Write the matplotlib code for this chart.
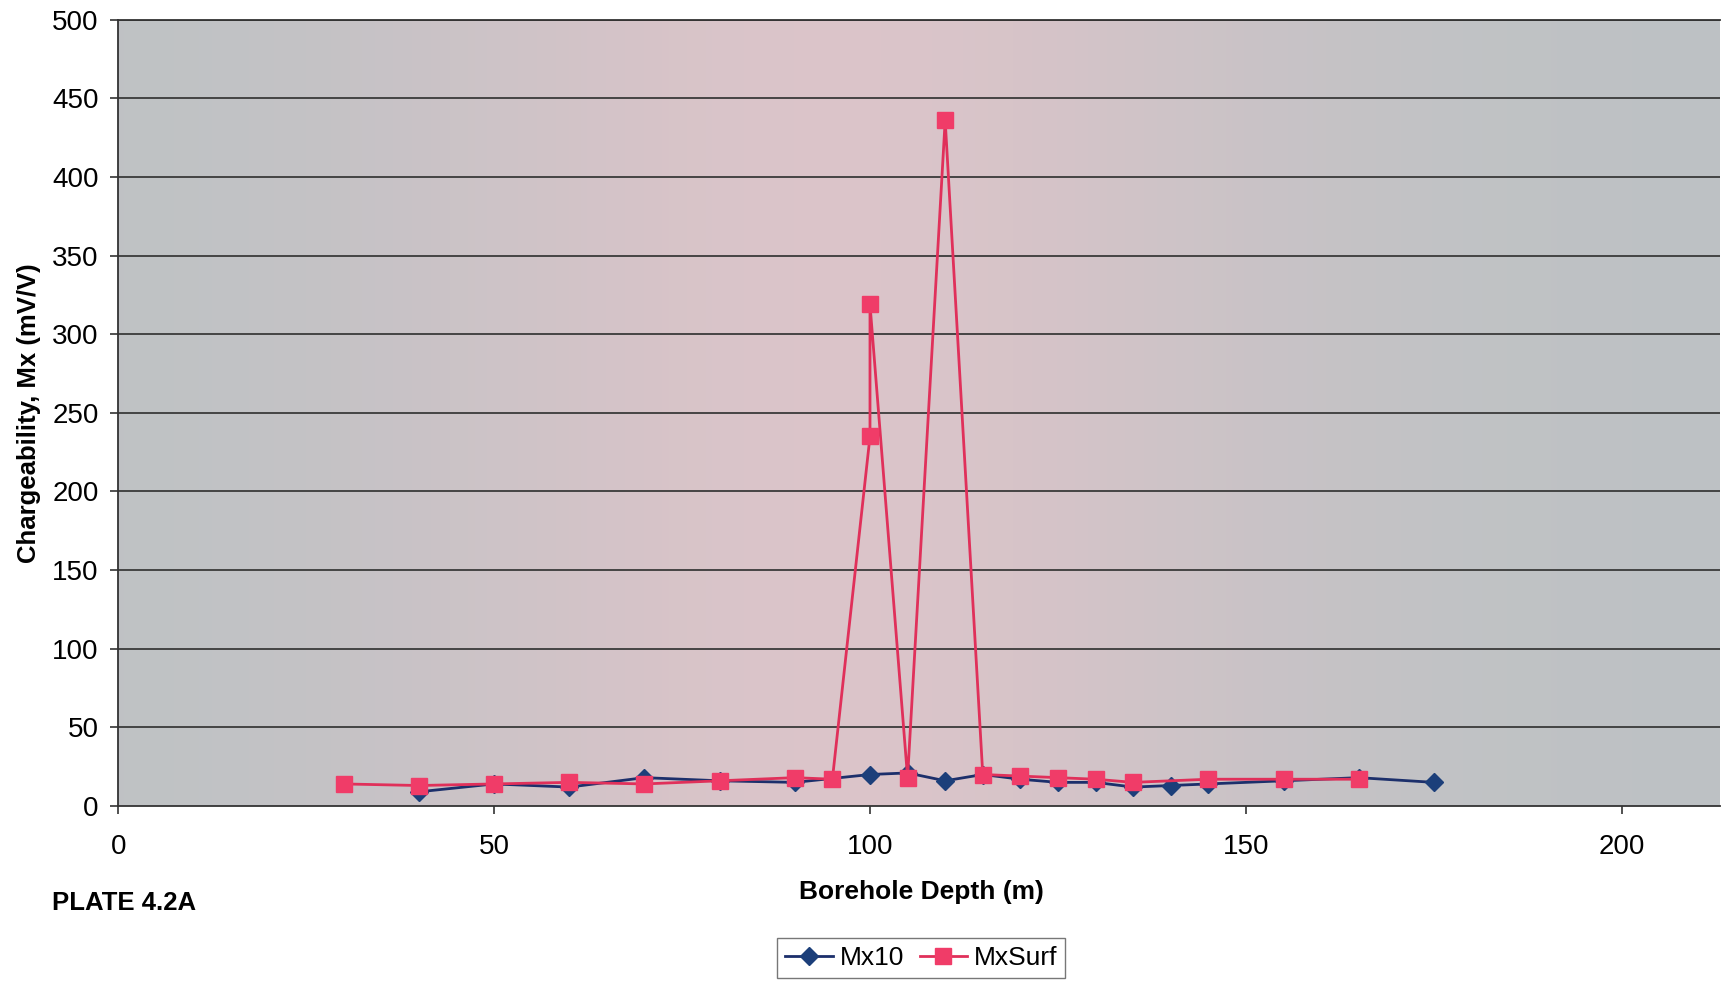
import numpy as np
import matplotlib.pyplot as plt

plt.rcParams['font.family'] = ['Liberation Sans', 'DejaVu Sans']

# Mx10 series
mx10_depth = [40, 50, 60, 70, 80, 90, 100, 105, 110, 115, 120, 125, 130, 135, 140, 145, 155, 165, 175]
mx10_val = [9, 14, 12, 18, 16, 15, 20, 21, 16, 20, 17, 15, 15, 12, 13, 14, 16, 18, 15]

# MxSurf series
surf_depth = [30, 40, 50, 60, 70, 80, 90, 95, 100, 100, 105, 110, 115, 120, 125, 130, 135, 145, 155, 165]
surf_val = [14, 13, 14, 15, 14, 16, 18, 17, 235, 319, 18, 436, 20, 19, 18, 17, 15, 17, 17, 17]

xticks = [0, 50, 100, 150, 200]
yticks = [0, 50, 100, 150, 200, 250, 300, 350, 400, 450, 500]

fig = plt.figure(figsize=(17.22, 9.86), dpi=100)
ax = fig.add_axes([0.0686, 0.1826, 0.9300, 0.7974])

# scanned-looking background: grey edges, pinkish middle
grad = np.linspace(0, 1, 256)
w = np.exp(-((grad - 0.45) / 0.28) ** 2)
grey = np.array([0.74, 0.76, 0.77])
pink = np.array([0.86, 0.77, 0.79])
img = grey[None, :] * (1 - w[:, None]) + pink[None, :] * w[:, None]
ax.imshow(img[None, :, :], extent=[0, 1, 0, 1], transform=ax.transAxes,
          aspect='auto', zorder=0)

for y in yticks[1:]:
    ax.axhline(y, color='#3a3a3a', lw=1.3, zorder=1)

ax.plot(mx10_depth, mx10_val, color='#1c2f6b', lw=2, marker='D', ms=9,
        mfc='#1c3f7a', mec='#1c3f7a', label='Mx10', zorder=3)
ax.plot(surf_depth, surf_val, color='#e0305a', lw=2, marker='s', ms=11,
        mfc='#f03c68', mec='#f03c68', label='MxSurf', zorder=4)

ax.set_xlim(0, 213)
ax.set_ylim(0, 500)
ax.set_xticks(xticks)
ax.set_yticks(yticks)
ax.tick_params(axis='both', labelsize=20, length=6, width=1.2, color='#333333')
ax.tick_params(axis='x', pad=14)
ax.tick_params(axis='y', pad=8)
for s in ['left', 'bottom', 'top']:
    ax.spines[s].set_color('#333333')
    ax.spines[s].set_linewidth(1.3)
ax.spines['right'].set_visible(False)

ax.set_ylabel('Chargeability, Mx (mV/V)', fontsize=18.5, fontweight='bold', labelpad=8)
fig.text(0.535, 0.095, 'Borehole Depth (m)', fontsize=19, fontweight='bold',
         ha='center', va='center')
fig.text(0.03, 0.084, 'PLATE 4.2A', fontsize=18.5, fontweight='bold',
         ha='left', va='center')

leg = fig.legend(loc='center', bbox_to_anchor=(0.535, 0.028), ncol=2, fontsize=19,
                 frameon=True, fancybox=False, edgecolor='#555555',
                 handlelength=1.8, columnspacing=0.6, handletextpad=0.25,
                 borderpad=0.3, borderaxespad=0.2)

fig.savefig('out.png', dpi=100)
